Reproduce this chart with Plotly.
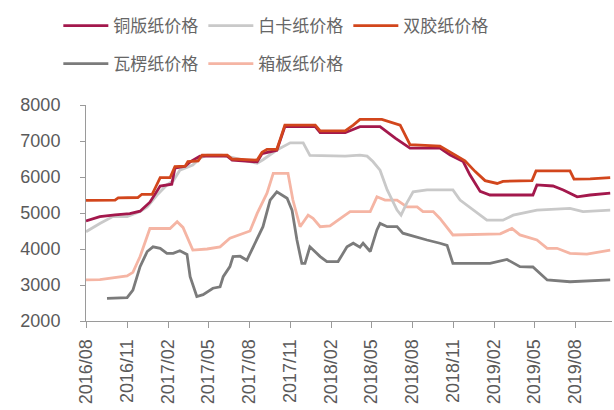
import plotly.graph_objects as go

# ---------------- data ----------------
tick_labels = ["2016/08", "2016/11", "2017/02", "2017/05", "2017/08", "2017/11",
               "2018/02", "2018/05", "2018/08", "2018/11", "2019/02", "2019/05", "2019/08"]
y_ticks = [2000, 3000, 4000, 5000, 6000, 7000, 8000]

names = ["铜版纸价格", "白卡纸价格", "双胶纸价格", "瓦楞纸价格", "箱板纸价格"]

tongban_dates = ["2016-08-01", "2016-08-21", "2016-09-01", "2016-10-05", "2016-11-07", "2016-11-30",
                 "2016-12-22", "2017-01-14", "2017-02-09", "2017-02-16", "2017-03-11", "2017-03-22",
                 "2017-04-13", "2017-06-13", "2017-06-24", "2017-08-19", "2017-08-30", "2017-10-02",
                 "2017-10-20", "2017-12-27", "2018-01-07", "2018-03-04", "2018-04-06", "2018-05-21",
                 "2018-06-24", "2018-07-27", "2018-10-02", "2018-10-25", "2018-11-23", "2018-12-08",
                 "2018-12-31", "2019-01-22", "2019-04-28", "2019-05-07", "2019-06-12", "2019-07-05",
                 "2019-08-05", "2019-09-03", "2019-10-18"]
tongban_vals = [4780, 4850, 4900, 4950, 4980, 5050,
                5300, 5750, 5800, 6250, 6300, 6420,
                6580, 6580, 6470, 6420, 6650, 6740,
                7400, 7400, 7230, 7230, 7400, 7400,
                7080, 6800, 6800, 6610, 6430, 6060,
                5600, 5500, 5500, 5780, 5750, 5640,
                5450, 5500, 5550]

baika_dates = ["2016-08-01", "2016-09-01", "2016-09-30", "2016-11-01", "2016-11-30", "2016-12-16",
               "2017-01-07", "2017-01-29", "2017-02-12", "2017-02-27", "2017-03-28", "2017-04-13",
               "2017-04-29", "2017-06-01", "2017-08-19", "2017-09-01", "2017-10-02", "2017-11-01",
               "2017-11-30", "2017-12-15", "2018-03-04", "2018-04-06", "2018-04-22", "2018-05-05",
               "2018-05-21", "2018-06-06", "2018-06-28", "2018-07-07", "2018-07-20", "2018-08-03",
               "2018-09-03", "2018-10-31", "2018-11-16", "2018-12-15", "2019-01-15", "2019-02-20",
               "2019-03-15", "2019-05-07", "2019-07-20", "2019-08-18", "2019-10-18"]
baika_vals = [4480, 4710, 4900, 4900, 5040, 5170,
              5500, 5780, 5890, 6190, 6330, 6520,
              6610, 6610, 6380, 6480, 6750, 6950,
              6950, 6600, 6580, 6610, 6580, 6430,
              6190, 5640, 5080, 4940, 5280, 5590,
              5640, 5640, 5360, 5080, 4800, 4800,
              4940, 5080, 5130, 5040, 5080]

shuangjiao_dates = ["2016-08-01", "2016-10-05", "2016-10-12", "2016-11-25", "2016-12-04", "2016-12-27",
                    "2017-01-05", "2017-01-14", "2017-02-05", "2017-02-16", "2017-03-11", "2017-03-17",
                    "2017-04-09", "2017-04-18", "2017-06-13", "2017-06-24", "2017-08-19", "2017-08-30",
                    "2017-09-10", "2017-10-02", "2017-10-11", "2017-10-20", "2017-12-27", "2018-01-07",
                    "2018-03-04", "2018-03-22", "2018-04-06", "2018-05-25", "2018-07-05", "2018-07-27",
                    "2018-10-02", "2018-10-31", "2018-11-27", "2018-12-20", "2019-01-11", "2019-02-07",
                    "2019-02-20", "2019-04-26", "2019-05-05", "2019-07-20", "2019-07-29", "2019-09-03",
                    "2019-10-18"]
shuangjiao_vals = [5350, 5360, 5420, 5430, 5520, 5520,
                   5750, 5980, 5980, 6290, 6300, 6430,
                   6450, 6610, 6610, 6500, 6470, 6690,
                   6770, 6770, 7100, 7440, 7440, 7280,
                   7280, 7440, 7600, 7600, 7440, 6900,
                   6860, 6660, 6450, 6150, 5900, 5820,
                   5880, 5900, 6170, 6170, 5940, 5950,
                   5980]

waleng_dates = ["2016-09-17", "2016-11-01", "2016-11-14", "2016-11-30", "2016-12-16", "2016-12-29",
                "2017-01-14", "2017-01-29", "2017-02-12", "2017-02-27", "2017-03-15", "2017-03-22",
                "2017-04-06", "2017-04-20", "2017-05-12", "2017-05-28", "2017-06-04", "2017-06-19",
                "2017-06-26", "2017-07-12", "2017-07-27", "2017-08-10", "2017-09-01", "2017-09-17",
                "2017-10-02", "2017-10-25", "2017-11-05", "2017-11-16", "2017-11-27", "2017-12-04",
                "2017-12-15", "2018-01-07", "2018-01-22", "2018-02-16", "2018-02-27", "2018-03-08",
                "2018-03-22", "2018-04-06", "2018-04-13", "2018-04-29", "2018-05-14", "2018-05-21",
                "2018-06-06", "2018-06-28", "2018-07-11", "2018-08-03", "2018-09-03", "2018-10-02",
                "2018-10-18", "2018-10-31", "2019-01-22", "2019-03-01", "2019-03-30", "2019-04-28",
                "2019-05-30", "2019-07-20", "2019-10-18"]
waleng_vals = [2630, 2650, 2860, 3510, 3930, 4060,
               4020, 3880, 3880, 3950, 3850, 3230,
               2680, 2730, 2910, 2950, 3230, 3510,
               3790, 3800, 3690, 4060, 4620, 5360,
               5590, 5410, 5080, 4250, 3600, 3600,
               4060, 3790, 3650, 3650, 3880, 4060,
               4160, 4050, 4160, 3930, 4530, 4710,
               4620, 4620, 4440, 4350, 4250, 4160,
               4100, 3600, 3600, 3710, 3510, 3500,
               3140, 3090, 3140]

xiangban_dates = ["2016-08-01", "2016-09-01", "2016-11-01", "2016-11-14", "2016-11-30", "2016-12-22",
                  "2017-02-05", "2017-02-21", "2017-03-06", "2017-03-28", "2017-04-29", "2017-05-28",
                  "2017-06-19", "2017-07-18", "2017-08-03", "2017-08-19", "2017-09-10", "2017-09-24",
                  "2017-10-27", "2017-11-07", "2017-11-23", "2017-12-11", "2017-12-22", "2018-01-07",
                  "2018-01-29", "2018-02-27", "2018-03-15", "2018-04-29", "2018-05-14", "2018-06-01",
                  "2018-06-28", "2018-07-20", "2018-08-12", "2018-08-25", "2018-09-17", "2018-10-02",
                  "2018-10-31", "2019-02-14", "2019-03-12", "2019-03-30", "2019-05-07", "2019-05-30",
                  "2019-06-21", "2019-07-20", "2019-08-27", "2019-10-18"]
xiangban_vals = [3140, 3150, 3250, 3350, 3790, 4570,
                 4570, 4760, 4600, 3970, 4000, 4060,
                 4300, 4440, 4500, 4990, 5550, 6100,
                 6100, 5360, 4620, 4940, 4850, 4620,
                 4640, 4900, 5040, 5040, 5450, 5360,
                 5360, 5170, 5170, 5040, 5040, 4850,
                 4390, 4420, 4570, 4390, 4250, 4020,
                 4020, 3880, 3860, 3970]

colors = {
    "铜版纸价格": "#a3184c",
    "白卡纸价格": "#c9c9c9",
    "双胶纸价格": "#d2461c",
    "瓦楞纸价格": "#7b7b7b",
    "箱板纸价格": "#f5b5a4",
}

series = {
    "铜版纸价格": (tongban_dates, tongban_vals, "legend", 1),
    "白卡纸价格": (baika_dates, baika_vals, "legend", 2),
    "双胶纸价格": (shuangjiao_dates, shuangjiao_vals, "legend", 3),
    "瓦楞纸价格": (waleng_dates, waleng_vals, "legend2", 4),
    "箱板纸价格": (xiangban_dates, xiangban_vals, "legend2", 5),
}
draw_order = ["箱板纸价格", "瓦楞纸价格", "白卡纸价格", "铜版纸价格", "双胶纸价格"]

fig = go.Figure()
for nm in draw_order:
    d, v, lg, rank = series[nm]
    fig.add_trace(go.Scatter(
        x=d, y=v, name=nm, mode="lines",
        line=dict(color=colors[nm], width=2.8),
        legend=lg, legendrank=rank,
    ))

tickvals = [lbl.replace("/", "-") + "-01" for lbl in tick_labels]

axis_font = dict(family="Liberation Sans, Arial", size=18, color="#5a5a5a")
legend_font = dict(family="Noto Sans CJK SC", size=17, color="#666666")

legend_common = dict(
    orientation="h", xref="container", yref="container",
    xanchor="left", yanchor="middle",
    entrywidth=85, entrywidthmode="pixels", itemwidth=45,
    font=legend_font, bgcolor="rgba(0,0,0,0)", traceorder="normal",
)

fig.update_layout(
    width=614, height=410,
    margin=dict(l=86, r=2, t=105, b=89),
    paper_bgcolor="white", plot_bgcolor="white",
    showlegend=True,
    legend=dict(legend_common, x=0.095, y=1 - 26 / 410),
    legend2=dict(legend_common, x=0.095, y=1 - 64 / 410),
    xaxis=dict(
        type="date", range=["2016-08-01", "2019-10-22"],
        tickvals=tickvals, ticktext=tick_labels, tickangle=-90,
        ticks="outside", ticklen=6, tickcolor="#9a9a9a",
        showline=True, linecolor="#9a9a9a", linewidth=1,
        showgrid=False, zeroline=False, tickfont=axis_font,
        ticklabelstandoff=4,
    ),
    yaxis=dict(
        range=[2000, 8000], tickvals=y_ticks,
        ticks="outside", ticklen=5, tickcolor="#9a9a9a",
        showline=True, linecolor="#9a9a9a", linewidth=1,
        showgrid=False, zeroline=False, tickfont=axis_font,
        ticklabelstandoff=16,
    ),
)

fig.write_html("out.html")
